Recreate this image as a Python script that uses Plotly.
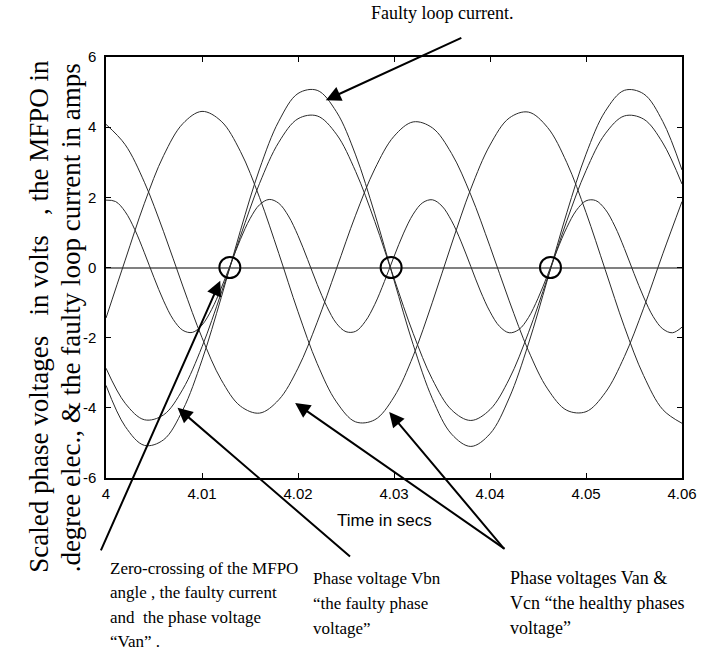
import plotly.graph_objects as go

# ---------------- data ----------------
time_s = [4.000, 4.002, 4.004, 4.006, 4.008, 4.010, 4.012, 4.014, 4.016, 4.018,
          4.020, 4.022, 4.024, 4.026, 4.028, 4.030, 4.032, 4.034, 4.036, 4.038,
          4.040, 4.042, 4.044, 4.046, 4.048, 4.050, 4.052, 4.054, 4.056, 4.058,
          4.060]

faulty_current = [-3.36, -4.53, -5.07, -4.91, -4.06, -2.64, -0.86, 1.05, 2.81, 4.17,
                  4.96, 5.05, 4.44, 3.21, 1.53, -0.36, -2.20, -3.74, -4.75, -5.10,
                  -4.74, -3.72, -2.18, -0.33, 1.56, 3.23, 4.45, 5.05, 4.95, 4.16,
                  2.78]

vbn = [-2.87, -3.87, -4.34, -4.20, -3.47, -2.26, -0.73, 0.89, 2.40, 3.57,
       4.24, 4.32, 3.80, 2.74, 1.31, -0.31, -1.88, -3.19, -4.06, -4.36,
       -4.05, -3.18, -1.86, -0.29, 1.33, 2.76, 3.81, 4.32, 4.23, 3.55,
       2.38]

van = [-1.44, 0.21, 1.83, 3.19, 4.10, 4.45, 4.17, 3.31, 1.99, 0.40,
       -1.26, -2.74, -3.83, -4.40, -4.34, -3.69, -2.52, -0.99, 0.67, 2.24,
       3.49, 4.26, 4.43, 3.99, 2.99, 1.57, -0.06, -1.69, -3.08, -4.05,
       -4.44]

vcn = [4.08, 3.50, 2.43, 1.02, -0.53, -2.00, -3.20, -3.95, -4.15, -3.77,
       -2.87, -1.56, -0.04, 1.49, 2.81, 3.74, 4.15, 3.98, 3.25, 2.07,
       0.60, -0.95, -2.37, -3.46, -4.07, -4.11, -3.57, -2.54, -1.16, 0.39,
       1.88]

# MFPO oscillates twice as fast, so it is read every millisecond
time_mfpo = [4.000, 4.001, 4.002, 4.003, 4.004, 4.005, 4.006, 4.007, 4.008, 4.009,
             4.010, 4.011, 4.012, 4.013, 4.014, 4.015, 4.016, 4.017, 4.018, 4.019,
             4.020, 4.021, 4.022, 4.023, 4.024, 4.025, 4.026, 4.027, 4.028, 4.029,
             4.030, 4.031, 4.032, 4.033, 4.034, 4.035, 4.036, 4.037, 4.038, 4.039,
             4.040, 4.041, 4.042, 4.043, 4.044, 4.045, 4.046, 4.047, 4.048, 4.049,
             4.050, 4.051, 4.052, 4.053, 4.054, 4.055, 4.056, 4.057, 4.058, 4.059,
             4.060]
mfpo = [1.92, 1.88, 1.59, 1.08, 0.42, -0.29, -0.95, -1.48, -1.79, -1.85,
        -1.64, -1.20, -0.59, 0.11, 0.80, 1.39, 1.79, 1.94, 1.83, 1.47,
        0.91, 0.23, -0.48, -1.11, -1.59, -1.83, -1.82, -1.54, -1.05, -0.40,
        0.31, 0.98, 1.52, 1.85, 1.93, 1.75, 1.33, 0.73, 0.03, -0.67,
        -1.26, -1.68, -1.86, -1.77, -1.43, -0.88, -0.21, 0.50, 1.14, 1.63,
        1.90, 1.91, 1.66, 1.18, 0.54, -0.17, -0.84, -1.40, -1.75, -1.86,
        -1.70]

zero_cross_t = [4.0129, 4.0297, 4.0463]
zero_cross_v = [0, 0, 0]

x_tick_vals = [4.00, 4.01, 4.02, 4.03, 4.04, 4.05, 4.06]
x_tick_text = ["4", "4.01", "4.02", "4.03", "4.04", "4.05", "4.06"]
y_tick_vals = [-6, -4, -2, 0, 2, 4, 6]
y_tick_text = ["-6", "-4", "-2", "0", "2", "4", "6"]

y_title_lines = ["Scaled phase voltages\u00a0\u00a0 in volts\u00a0\u00a0 , the MFPO in",
                 ".degree elec., & the faulty loop current in amps"]
x_title = "Time in secs"
top_label = "Faulty loop current."
zero_label = ["Zero-crossing of the MFPO", "angle , the faulty current",
              "and\u00a0 the phase voltage", "\u201cVan\u201d ."]
vbn_label = ["Phase voltage Vbn", "\u201cthe faulty phase", "voltage\u201d"]
healthy_label = ["Phase voltages Van &", "Vcn \u201cthe healthy phases", "voltage\u201d"]

# ---------------- figure ----------------
SERIF = "Liberation Serif, Times New Roman, serif"
SANS = "Liberation Sans, Arial, sans-serif"
LINE = "#2a2a2a"

fig = go.Figure()
for name, xs, ys in [("Faulty loop current", time_s, faulty_current),
                     ("Vbn", time_s, vbn), ("Van", time_s, van),
                     ("Vcn", time_s, vcn), ("MFPO", time_mfpo, mfpo)]:
    fig.add_trace(go.Scatter(x=xs, y=ys, mode="lines", name=name,
                             line=dict(color=LINE, width=1, shape="spline"),
                             showlegend=False, hoverinfo="skip"))

fig.add_trace(go.Scatter(x=zero_cross_t, y=zero_cross_v, mode="markers",
                         marker=dict(symbol="circle-open", size=21,
                                     color="black", line=dict(width=2, color="black")),
                         showlegend=False, hoverinfo="skip"))

L, R, T, B = 106, 21, 57, 180
W, H = 709, 658
pw, ph = W - L - R, H - T - B


def px_x(px):
    return (px - L) / pw


def px_y(py):
    return (H - B - py) / ph


annotations = []
# arrows (tip in data coords, tail as pixel offset)
arrow_style = dict(showarrow=True, arrowhead=2, arrowsize=1.5, arrowwidth=2,
                   arrowcolor="black", standoff=0, text="", xref="x", yref="y")
annotations.append(dict(x=4.0229, y=4.77, ax=137, ay=-63, **arrow_style))
annotations.append(dict(x=4.0119, y=-0.38, ax=-120, ay=271, **arrow_style))
annotations.append(dict(x=4.00745, y=-4.0, ax=174, ay=150, **arrow_style))
annotations.append(dict(x=4.0197, y=-3.86, ax=211, ay=147, **arrow_style))
annotations.append(dict(x=4.0295, y=-4.12, ax=116, ay=138, **arrow_style))

txt = dict(showarrow=False, xref="paper", yref="paper",
           font=dict(family=SERIF, size=17, color="black"))
annotations.append(dict(text=top_label, x=px_x(446), y=px_y(13),
                        xanchor="center", yanchor="middle",
                        showarrow=False, xref="paper", yref="paper",
                        font=dict(family=SERIF, size=18, color="black")))
for i, s in enumerate(zero_label):
    annotations.append(dict(text=s, x=px_x(108), y=px_y(568 + 24.5 * i),
                            xanchor="left", yanchor="middle", **txt))
for i, s in enumerate(vbn_label):
    annotations.append(dict(text=s, x=px_x(313), y=px_y(578 + 25 * i),
                            xanchor="left", yanchor="middle", **txt))
for i, s in enumerate(healthy_label):
    annotations.append(dict(text=s, x=px_x(512), y=px_y(578 + 25 * i),
                            xanchor="left", yanchor="middle", showarrow=False,
                            xref="paper", yref="paper",
                            font=dict(family=SERIF, size=18, color="black")))

annotations.append(dict(text=x_title, x=px_x(387.5), y=px_y(520), showarrow=False,
                        xref="paper", yref="paper", xanchor="center", yanchor="middle",
                        font=dict(family=SANS, size=17, color="black")))
for xpos, ypos, s in zip([38, 71], [316, 318], y_title_lines):
    annotations.append(dict(text=s, x=px_x(xpos), y=px_y(ypos), showarrow=False,
                            xref="paper", yref="paper", xanchor="center",
                            yanchor="middle", textangle=-90,
                            font=dict(family=SERIF, size=27, color="black")))

axis_common = dict(showline=True, linecolor="black", linewidth=1.5, mirror="allticks",
                   ticks="inside", ticklen=5, tickwidth=1, tickcolor="black",
                   showgrid=False, tickfont=dict(family=SANS, size=15, color="black"))

fig.update_layout(
    width=W, height=H,
    margin=dict(l=L, r=R, t=T, b=B, pad=0),
    paper_bgcolor="white", plot_bgcolor="white",
    showlegend=False,
    annotations=annotations,
    xaxis=dict(range=[4.0, 4.06], tickvals=x_tick_vals, ticktext=x_tick_text,
               zeroline=False, ticklabelstandoff=1, **axis_common),
    yaxis=dict(range=[-6, 6], tickvals=y_tick_vals, ticktext=y_tick_text,
               zeroline=True, zerolinecolor="#808080", zerolinewidth=1.5,
               ticklabelstandoff=5, **axis_common),
)

fig.write_html("out.html")
